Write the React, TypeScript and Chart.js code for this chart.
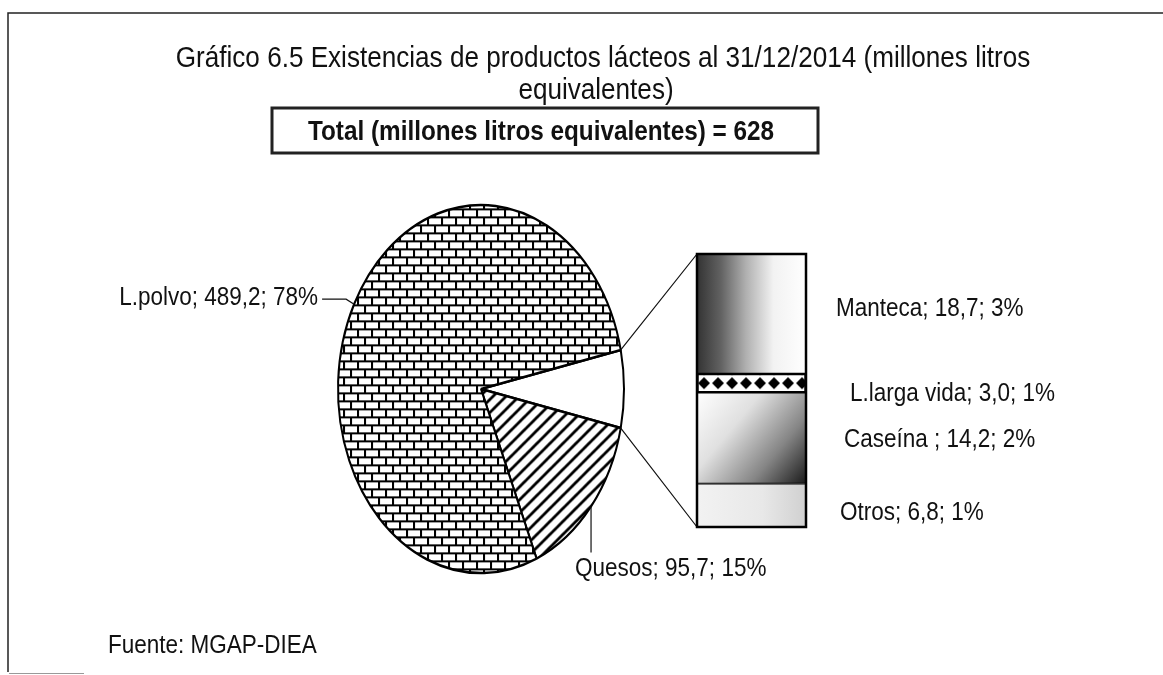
import React, { useEffect, useRef } from "react";
import { Chart, registerables } from "chart.js";

Chart.register(...registerables);

// ---------- data ----------
const pieCategories = ["Otros", "Quesos", "L.polvo"];
const pieValues = [42.7, 95.7, 489.2];
const piePercents = [7, 15, 78];

// bar of pie, listed bottom -> top
const barCategories = ["Otros", "Caseína ", "L.larga vida", "Manteca"];
const barValues = [6.8, 14.2, 3.0, 18.7];
const barPercents = [1, 2, 1, 3];

const titleLines = [
  "Gráfico 6.5 Existencias de productos lácteos al 31/12/2014 (millones litros",
  "equivalentes)",
];
const totalLabel = "Total (millones litros equivalentes) = 628";
const sourceLabel = "Fuente: MGAP-DIEA";

// ---------- layout / style ----------
const W = 1163;
const H = 675;
const SY = 1.287; // vertical stretch of the pie (ellipse)
const PIE_R = 143;
const BAR_LEFT = 680;
const BAR_TOP = 240;
const BAR_W = 140;
const BAR_H = 300;
const FONT = '"Liberation Sans", Arial, "DejaVu Sans", sans-serif';
const NARROW = 0.9; // horizontal squeeze to imitate a narrow face
const INK = "#111";

const fmt = (v: number) => v.toFixed(1).replace(".", ",");

function narrowText(
  ctx: CanvasRenderingContext2D,
  str: string,
  x: number,
  y: number,
  size: number,
  align: CanvasTextAlign,
  baseline: CanvasTextBaseline,
  bold = false
) {
  ctx.save();
  ctx.translate(x, y);
  ctx.scale(NARROW, 1);
  ctx.font = `${bold ? "bold " : ""}${size}px ${FONT}`;
  ctx.textAlign = align;
  ctx.textBaseline = baseline;
  ctx.fillStyle = INK;
  ctx.fillText(str, 0, 0);
  ctx.restore();
}

function brickPattern(ctx: CanvasRenderingContext2D) {
  const c = document.createElement("canvas");
  c.width = 28;
  c.height = 16;
  const g = c.getContext("2d")!;
  g.fillStyle = "#fff";
  g.fillRect(0, 0, 28, 16);
  g.fillStyle = "#000";
  g.fillRect(0, 0, 28, 2);
  g.fillRect(0, 8, 28, 2);
  g.fillRect(0, 0, 2, 8);
  g.fillRect(14, 0, 2, 8);
  g.fillRect(7, 8, 2, 8);
  g.fillRect(21, 8, 2, 8);
  const p = ctx.createPattern(c, "repeat")!;
  p.setTransform(new DOMMatrix().scale(1, 1 / SY));
  return p;
}

function stripePattern(ctx: CanvasRenderingContext2D) {
  const s = 13;
  const c = document.createElement("canvas");
  c.width = s;
  c.height = s;
  const g = c.getContext("2d")!;
  g.fillStyle = "#fff";
  g.fillRect(0, 0, s, s);
  g.strokeStyle = "#000";
  g.lineWidth = 2.8;
  g.beginPath();
  g.moveTo(-2, s + 2);
  g.lineTo(s + 2, -2);
  g.moveTo(-2, 2);
  g.lineTo(2, -2);
  g.moveTo(s - 2, s + 2);
  g.lineTo(s + 2, s - 2);
  g.stroke();
  const p = ctx.createPattern(c, "repeat")!;
  p.setTransform(new DOMMatrix().scale(1, 1 / SY));
  return p;
}

function diamondPattern(ctx: CanvasRenderingContext2D, x0: number, yc: number) {
  const c = document.createElement("canvas");
  c.width = 14;
  c.height = 14;
  const g = c.getContext("2d")!;
  g.fillStyle = "#fff";
  g.fillRect(0, 0, 14, 14);
  g.fillStyle = "#000";
  g.beginPath();
  g.moveTo(7, 1);
  g.lineTo(13, 7);
  g.lineTo(7, 13);
  g.lineTo(1, 7);
  g.closePath();
  g.fill();
  const p = ctx.createPattern(c, "repeat")!;
  p.setTransform(new DOMMatrix().translate(x0, yc - 7));
  return p;
}

function barFill(i: number, chart: any) {
  const area = chart.chartArea;
  const y = chart.scales?.y;
  if (!area || !y) return "#ddd";
  const ctx: CanvasRenderingContext2D = chart.ctx;
  let lo = 0;
  for (let k = 0; k < i; k++) lo += barValues[k];
  const hi = lo + barValues[i];
  const yTop = y.getPixelForValue(hi);
  const yBot = y.getPixelForValue(lo);
  const name = barCategories[i].trim();
  if (name === "Manteca") {
    const gr = ctx.createLinearGradient(area.left, 0, area.right, 0);
    gr.addColorStop(0, "#333333");
    gr.addColorStop(0.22, "#626262");
    gr.addColorStop(0.45, "#b0b0b0");
    gr.addColorStop(0.7, "#f2f2f2");
    gr.addColorStop(1, "#ffffff");
    return gr;
  }
  if (name === "L.larga vida") {
    return diamondPattern(ctx, area.left, (yTop + yBot) / 2);
  }
  if (name === "Caseína") {
    const gr = ctx.createLinearGradient(area.left, yTop, area.right, yBot);
    gr.addColorStop(0, "#ffffff");
    gr.addColorStop(0.35, "#e0e0e0");
    gr.addColorStop(0.7, "#858585");
    gr.addColorStop(1, "#1a1a1a");
    return gr;
  }
  const gr = ctx.createLinearGradient(area.left, 0, area.right, 0);
  gr.addColorStop(0, "#f2f2f2");
  gr.addColorStop(0.6, "#e8e8e8");
  gr.addColorStop(1, "#d0d0d0");
  return gr;
}

export default function App() {
  const mainRef = useRef<HTMLCanvasElement>(null);
  const barRef = useRef<HTMLCanvasElement>(null);

  useEffect(() => {
    document.body.style.margin = "0";
    const barTotal = barValues.reduce((a, b) => a + b, 0);

    const barOutline = {
      id: "barOutline",
      afterDatasetsDraw(chart: any) {
        const top = chart.getDatasetMeta(barValues.length - 1).data[0];
        const bot = chart.getDatasetMeta(0).data[0];
        const ctx = chart.ctx;
        ctx.save();
        ctx.strokeStyle = "#000";
        ctx.lineWidth = 2.5;
        ctx.strokeRect(top.x - top.width / 2, top.y, top.width, bot.base - top.y);
        ctx.restore();
      },
    };

    const barChart = new Chart(barRef.current!, {
      type: "bar",
      data: {
        labels: [""],
        datasets: barCategories.map((c, i) => ({
          label: c,
          data: [barValues[i]],
          backgroundColor: (ctx: any) => barFill(i, ctx.chart),
          borderColor: "#000",
          borderWidth: barCategories[i] === "L.larga vida" ? 2 : 1.2,
          borderSkipped: false,
          barPercentage: 1,
          categoryPercentage: 1,
        })),
      },
      options: {
        animation: false,
        responsive: false,
        events: [],
        layout: { padding: { left: 17, right: 14, top: 14, bottom: 13 } },
        scales: {
          x: { stacked: true, display: false },
          y: { stacked: true, display: false, min: 0, max: barTotal },
        },
        plugins: { legend: { display: false }, tooltip: { enabled: false } },
      },
      plugins: [barOutline],
    } as any);

    const mainCtx = mainRef.current!.getContext("2d")!;

    const decor = {
      id: "decor",
      beforeDraw(chart: any) {
        const ctx: CanvasRenderingContext2D = chart.ctx;
        ctx.save();
        ctx.fillStyle = "#fff";
        ctx.fillRect(0, 0, W, H);
        // frame
        ctx.strokeStyle = "#222";
        ctx.lineWidth = 1.5;
        ctx.beginPath();
        ctx.moveTo(8, 672);
        ctx.lineTo(8, 13);
        ctx.lineTo(W, 13);
        ctx.stroke();
        ctx.strokeStyle = "#999";
        ctx.lineWidth = 1;
        ctx.beginPath();
        ctx.moveTo(9, 673.5);
        ctx.lineTo(84, 673.5);
        ctx.stroke();
        // title
        narrowText(ctx, titleLines[0], 603, 67, 29, "center", "alphabetic");
        narrowText(ctx, titleLines[1], 596, 99, 29, "center", "alphabetic");
        // total box
        ctx.strokeStyle = "#222";
        ctx.lineWidth = 3;
        ctx.strokeRect(272, 108, 546, 45);
        narrowText(ctx, totalLabel, 541, 140, 27, "center", "alphabetic", true);
        ctx.restore();
      },
      beforeDatasetsDraw(chart: any) {
        const a = chart.getDatasetMeta(0).data[0];
        const ctx = chart.ctx;
        ctx.save();
        ctx.translate(a.x, a.y);
        ctx.scale(1, SY);
        ctx.translate(-a.x, -a.y);
      },
      afterDatasetsDraw(chart: any) {
        chart.ctx.restore();
      },
      afterDraw(chart: any) {
        const ctx: CanvasRenderingContext2D = chart.ctx;
        const arcs = chart.getDatasetMeta(0).data;
        const cx = arcs[0].x;
        const cy = arcs[0].y;
        const r = arcs[0].outerRadius;
        const pt = (ang: number) => [cx + r * Math.cos(ang), cy + r * SY * Math.sin(ang)];
        const LS = 25;
        ctx.save();
        ctx.strokeStyle = "#111";
        ctx.lineWidth = 1.2;

        // L.polvo label
        const iP = pieCategories.indexOf("L.polvo");
        const aP = arcs[iP];
        const [px, py] = pt((aP.startAngle + aP.endAngle) / 2);
        ctx.beginPath();
        ctx.moveTo(px, py);
        ctx.lineTo(px - 8, py - 5);
        ctx.lineTo(px - 32, py - 5);
        ctx.stroke();
        narrowText(ctx, `${pieCategories[iP]}; ${fmt(pieValues[iP])}; ${piePercents[iP]}%`, px - 36, py - 6, LS, "right", "middle");

        // Quesos label
        const iQ = pieCategories.indexOf("Quesos");
        const aQ = arcs[iQ];
        const [qx, qy] = pt((aQ.startAngle + aQ.endAngle) / 2);
        ctx.beginPath();
        ctx.moveTo(qx, qy);
        ctx.lineTo(qx, qy + 46);
        ctx.stroke();
        narrowText(ctx, `${pieCategories[iQ]}; ${fmt(pieValues[iQ])}; ${piePercents[iQ]}%`, qx - 16, qy + 63, LS, "left", "middle");

        // connectors to the bar
        const iO = pieCategories.indexOf("Otros");
        const aO = arcs[iO];
        const [ux, uy] = pt(aO.startAngle);
        const [lx, ly] = pt(aO.endAngle);
        const topEl = barChart.getDatasetMeta(barValues.length - 1).data[0] as any;
        const botEl = barChart.getDatasetMeta(0).data[0] as any;
        const bl = BAR_LEFT + topEl.x - topEl.width / 2;
        ctx.beginPath();
        ctx.moveTo(ux, uy);
        ctx.lineTo(bl, BAR_TOP + topEl.y);
        ctx.moveTo(lx, ly);
        ctx.lineTo(bl, BAR_TOP + botEl.base);
        ctx.stroke();

        // bar labels
        barCategories.forEach((c, i) => {
          const el = barChart.getDatasetMeta(i).data[0] as any;
          const right = BAR_LEFT + el.x + el.width / 2;
          const mid = BAR_TOP + (el.y + el.base) / 2;
          const dy = c === "L.larga vida" ? 11 : c === "Manteca" ? -5 : c === "Otros" ? 8 : 2;
          const dx = c === "L.larga vida" ? 44 : c === "Caseína " ? 38 : c === "Otros" ? 34 : 30;
          narrowText(ctx, `${c}; ${fmt(barValues[i])}; ${barPercents[i]}%`, right + dx, mid + dy, LS, "left", "middle");
        });

        // source
        narrowText(ctx, sourceLabel, 108, 646, LS, "left", "middle");
        ctx.restore();
      },
    };

    const pieChart = new Chart(mainCtx, {
      type: "pie",
      data: {
        labels: pieCategories,
        datasets: [
          {
            data: pieValues,
            backgroundColor: ["#ffffff", stripePattern(mainCtx), brickPattern(mainCtx)],
            borderColor: "#000",
            borderWidth: 2,
            radius: PIE_R,
          },
        ],
      },
      options: {
        animation: false,
        responsive: false,
        events: [],
        rotation: 77.75,
        layout: { padding: { left: 338, right: W - 624, top: 246, bottom: H - 532 } },
        plugins: { legend: { display: false }, tooltip: { enabled: false }, title: { display: false } },
      },
      plugins: [decor],
    } as any);

    return () => {
      pieChart.destroy();
      barChart.destroy();
    };
  }, []);

  return (
    <div style={{ position: "relative", width: W, height: H, background: "#fff", overflow: "hidden" }}>
      <canvas ref={mainRef} width={W} height={H} style={{ position: "absolute", left: 0, top: 0, width: W, height: H }} />
      <canvas
        ref={barRef}
        width={BAR_W}
        height={BAR_H}
        style={{ position: "absolute", left: BAR_LEFT, top: BAR_TOP, width: BAR_W, height: BAR_H }}
      />
    </div>
  );
}
